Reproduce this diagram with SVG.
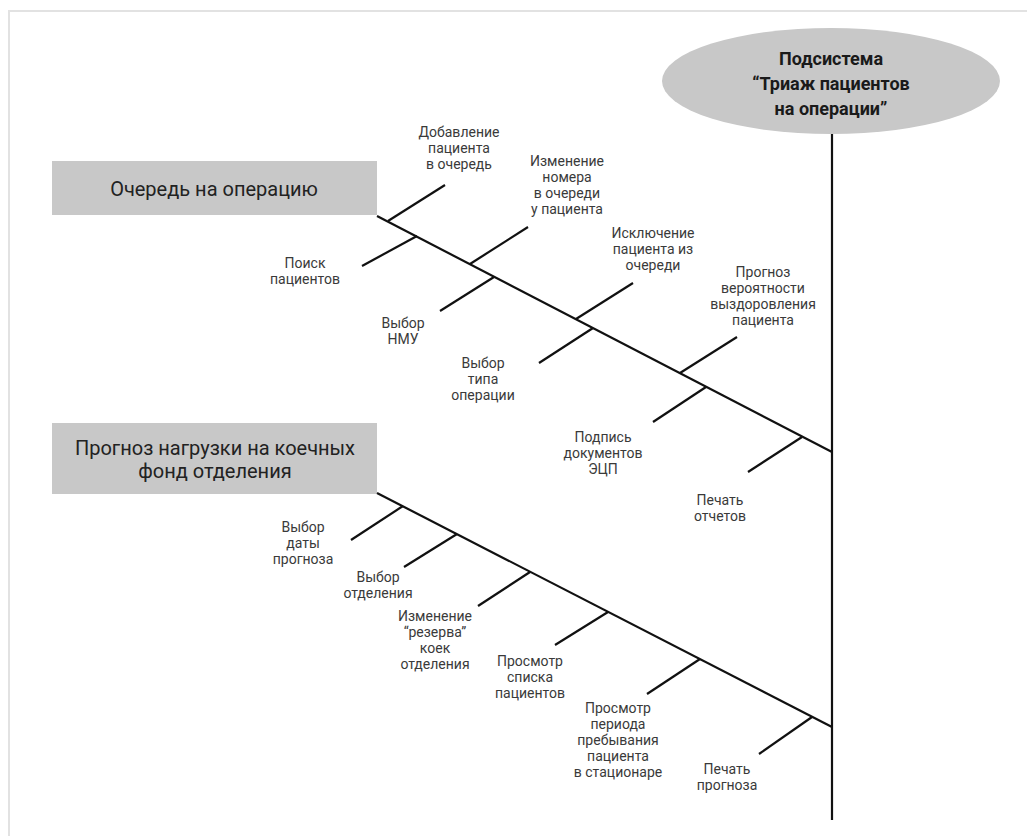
<svg xmlns="http://www.w3.org/2000/svg" width="1027" height="836" viewBox="0 0 1027 836">
<style>
.frame{stroke:#e2e2e2;stroke-width:2;fill:none}
.ln{stroke:#111;stroke-width:2.2;fill:none;stroke-linecap:butt}
.lbl{font-family:Roboto,"Liberation Sans",sans-serif;font-size:14px;fill:#3a3a3a;text-anchor:middle}
.box{fill:#c8c8c8}
.boxt{font-family:Roboto,"Liberation Sans",sans-serif;font-size:20px;fill:#222;text-anchor:middle}
.title{font-family:Roboto,"Liberation Sans",sans-serif;font-size:18px;font-weight:bold;fill:#1a1a1a;text-anchor:middle}
</style>
<rect width="1027" height="836" fill="#fff"/>
<path class="frame" d="M9 836 V11 H1027"/>
<g id="head">
<ellipse cx="831" cy="81" rx="169" ry="53" fill="#c8c8c8"/>
<text class="title"><tspan x="831" y="65">Подсистема</tspan><tspan x="831" y="90">“Триаж пациентов</tspan><tspan x="831" y="115">на операции”</tspan></text>
</g>
<g id="cat1">
<rect class="box" x="52" y="161" width="325" height="54"/>
<text class="boxt" x="214" y="196">Очередь на операцию</text>
</g>
<g id="cat2">
<rect class="box" x="52" y="423" width="325" height="71"/>
<text class="boxt"><tspan x="215" y="455">Прогноз нагрузки на коечных</tspan><tspan x="215" y="478">фонд отделения</tspan></text>
</g>
<g id="connectors">
<line class="ln" x1="832" y1="134" x2="832" y2="820"/>
<line class="ln" x1="377" y1="216" x2="832" y2="452"/>
<line class="ln" x1="377" y1="493" x2="832" y2="727"/>
<line class="ln" x1="388" y1="221" x2="445" y2="185"/>
<line class="ln" x1="417" y1="236" x2="362" y2="266"/>
<line class="ln" x1="470" y1="264" x2="528" y2="227"/>
<line class="ln" x1="494" y1="277" x2="440" y2="311"/>
<line class="ln" x1="576" y1="319" x2="633" y2="283"/>
<line class="ln" x1="593" y1="328" x2="539" y2="363"/>
<line class="ln" x1="680" y1="373" x2="737" y2="337"/>
<line class="ln" x1="706" y1="387" x2="653" y2="422"/>
<line class="ln" x1="802" y1="437" x2="748" y2="472"/>
<line class="ln" x1="403" y1="506" x2="351" y2="540"/>
<line class="ln" x1="457" y1="534" x2="404" y2="567"/>
<line class="ln" x1="530" y1="572" x2="478" y2="606"/>
<line class="ln" x1="608" y1="612" x2="555" y2="645"/>
<line class="ln" x1="700" y1="659" x2="647" y2="694"/>
<line class="ln" x1="812" y1="717" x2="759" y2="754"/>
</g>
<g id="l1"><text class="lbl"><tspan x="459" y="137">Добавление</tspan><tspan x="459" y="153">пациента</tspan><tspan x="459" y="169">в очередь</tspan></text></g>
<g id="l2"><text class="lbl"><tspan x="305" y="268">Поиск</tspan><tspan x="305" y="284">пациентов</tspan></text></g>
<g id="l3"><text class="lbl"><tspan x="567" y="166">Изменение</tspan><tspan x="567" y="182">номера</tspan><tspan x="567" y="198">в очереди</tspan><tspan x="567" y="214">у пациента</tspan></text></g>
<g id="l4"><text class="lbl"><tspan x="403" y="328">Выбор</tspan><tspan x="403" y="344">НМУ</tspan></text></g>
<g id="l5"><text class="lbl"><tspan x="653" y="238">Исключение</tspan><tspan x="653" y="254">пациента из</tspan><tspan x="653" y="270">очереди</tspan></text></g>
<g id="l6"><text class="lbl"><tspan x="483" y="368">Выбор</tspan><tspan x="483" y="384">типа</tspan><tspan x="483" y="400">операции</tspan></text></g>
<g id="l7"><text class="lbl"><tspan x="763" y="277">Прогноз</tspan><tspan x="763" y="293">вероятности</tspan><tspan x="763" y="309">выздоровления</tspan><tspan x="763" y="325">пациента</tspan></text></g>
<g id="l8"><text class="lbl"><tspan x="603" y="442">Подпись</tspan><tspan x="603" y="458">документов</tspan><tspan x="603" y="474">ЭЦП</tspan></text></g>
<g id="l9"><text class="lbl"><tspan x="720" y="505">Печать</tspan><tspan x="720" y="521">отчетов</tspan></text></g>
<g id="l10"><text class="lbl"><tspan x="303" y="532">Выбор</tspan><tspan x="303" y="548">даты</tspan><tspan x="303" y="564">прогноза</tspan></text></g>
<g id="l11"><text class="lbl"><tspan x="378" y="582">Выбор</tspan><tspan x="378" y="598">отделения</tspan></text></g>
<g id="l12"><text class="lbl"><tspan x="435" y="621">Изменение</tspan><tspan x="435" y="637">“резерва”</tspan><tspan x="435" y="653">коек</tspan><tspan x="435" y="669">отделения</tspan></text></g>
<g id="l13"><text class="lbl"><tspan x="530" y="666">Просмотр</tspan><tspan x="530" y="682">списка</tspan><tspan x="530" y="698">пациентов</tspan></text></g>
<g id="l14"><text class="lbl"><tspan x="618" y="713">Просмотр</tspan><tspan x="618" y="729">периода</tspan><tspan x="618" y="745">пребывания</tspan><tspan x="618" y="761">пациента</tspan><tspan x="618" y="777">в стационаре</tspan></text></g>
<g id="l15"><text class="lbl"><tspan x="727" y="774">Печать</tspan><tspan x="727" y="790">прогноза</tspan></text></g>
</svg>
